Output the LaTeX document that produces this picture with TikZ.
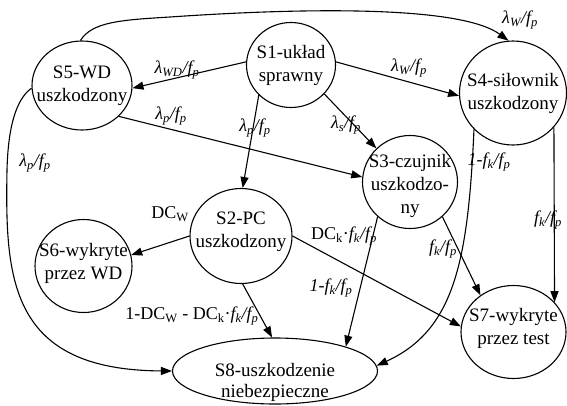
\documentclass[tikz,border=0pt]{standalone}
\usepackage{fontspec}
\setmainfont{Liberation Serif}
\usetikzlibrary{arrows.meta,shapes.geometric}
\begin{document}
\begin{tikzpicture}[x=1pt,y=-1pt,
  st/.style={draw, ellipse, line width=1.1pt, inner sep=0pt},
  lt/.style={align=center, inner sep=0pt, font=\fontsize{19}{23}\selectfont},
  arr/.style={line width=1.1pt, -{Triangle[length=11pt,width=8pt]}},
  lab/.style={font=\fontsize{18}{20}\selectfont\itshape, inner sep=1pt}
]
\useasboundingbox (0,0) rectangle (567,405);

\node[st, minimum width=89pt, minimum height=85pt, label={[lt]center:{S1-układ\\sprawny}}] (S1) at (291,65) {};
\node[st, minimum width=100pt, minimum height=89pt, label={[lt]center:{S5-WD\\uszkodzony}}] (S5) at (82,85.5) {};
\node[st, minimum width=107pt, minimum height=104pt, label={[lt]center:{S4-siłownik\\uszkodzony}}] (S4) at (513,93) {};
\node[st, minimum width=95pt, minimum height=93pt, label={[lt,yshift=-4pt]center:{S3-czujnik\\uszkodzo-\\ny}}] (S3) at (410,182) {};
\node[st, minimum width=102pt, minimum height=95pt, label={[lt,yshift=4pt]center:{S2-PC\\uszkodzony}}] (S2) at (241,236) {};
\node[st, minimum width=97pt, minimum height=93pt, label={[lt,yshift=3pt]center:{S6-wykryte\\przez WD}}] (S6) at (83.5,266) {};
\node[st, minimum width=105pt, minimum height=93pt, label={[lt,yshift=4pt]center:{S7-wykryte\\przez test}}] (S7) at (513.5,332) {};
\node[st, minimum width=205pt, minimum height=66pt, label={[lt,font=\fontsize{19}{21}\selectfont,yshift=-11pt]center:{S8-uszkodzenie\\niebezpieczne}}] (S8) at (275,371) {};

% edges
\draw[arr] (S1.176) -- (S5.-3);
\draw[arr] (S1.4) -- (S4.183);
\draw[arr] (S1.-41) -- (S3.135);
\draw[arr] (S1.223) -- (S2.88);
\draw[arr] (S5.-40) -- (S3.174);
\draw[arr] (S5.92) .. controls (92,22) and (120,20) .. (170,17) .. controls (300,8) and (460,5) .. (S4.95);
\draw[arr] (S5.183) .. controls (15,100) and (8,130) .. (7,170) .. controls (5,280) and (10,370) .. (S8.180);
\draw[arr] (S2.180) -- (S6.13);
\draw[arr] (S2.-88) -- (S8.95);
\draw[arr] (S2.0) -- (S7.174);
\draw[arr] (S3.227) -- (S8.19);
\draw[arr] (S3.-47) -- (S7.132);
\draw[arr] (S4.223) .. controls (468,260) and (455,330) .. (S8.3);
\draw[arr] (S4.-40) -- (S7.36);

% labels
\node[lab] (L1) at (177,70) {λ\textsubscript{WD}/f\textsubscript{p}};
\node[lab] (L2) at (409,68) {λ\textsubscript{W}/f\textsubscript{p}};
\node[lab] (L3) at (346,125) {λ\textsubscript{s}/f\textsubscript{p}};
\node[lab] (L4) at (255,128) {λ\textsubscript{p}/f\textsubscript{p}};
\node[lab] (L5) at (171,116) {λ\textsubscript{p}/f\textsubscript{p}};
\node[lab] (L6) at (520,20) {λ\textsubscript{W}/f\textsubscript{p}};
\node[lab] (L7) at (35,163) {λ\textsubscript{p}/f\textsubscript{p}};
\node[lab] (L8) at (170,214) {\textup{DC\textsubscript{W}}};
\node[lab] (L9) at (192,316) {\textup{1-DC\textsubscript{W} - DC\textsubscript{k}·}f\textsubscript{k}/f\textsubscript{p}};
\node[lab] (L10) at (344,236) {\textup{DC\textsubscript{k}·}f\textsubscript{k}/f\textsubscript{p}};
\node[lab] (L11) at (331,288) {1-f\textsubscript{k}/f\textsubscript{p}};
\node[lab] (L12) at (443,249) {f\textsubscript{k}/f\textsubscript{p}};
\node[lab] (L13) at (489,162) {1-f\textsubscript{k}/f\textsubscript{p}};
\node[lab] (L14) at (548,220) {f\textsubscript{k}/f\textsubscript{p}};
\end{tikzpicture}
\end{document}
